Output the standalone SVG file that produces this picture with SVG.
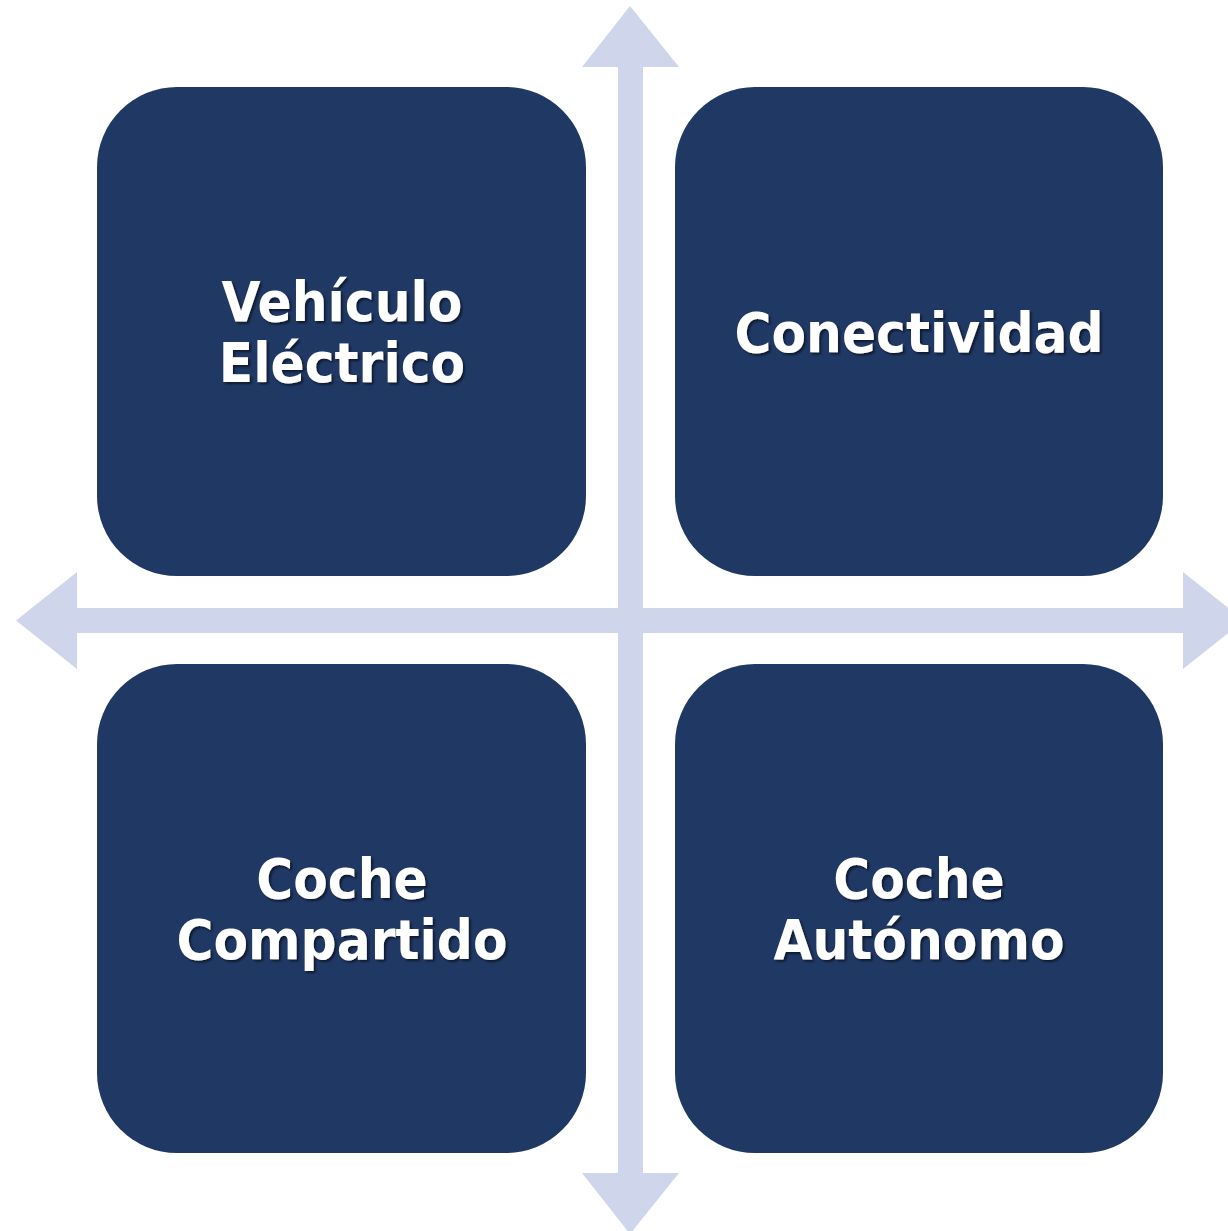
<svg xmlns="http://www.w3.org/2000/svg" width="1228" height="1231" viewBox="0 0 1228 1231">
<defs>
<style>
.box{fill:#203864}
.arr{fill:#CFD5EA}
.t{font-family:"DejaVu Sans Condensed","DejaVu Sans",Verdana,sans-serif;font-weight:bold;font-size:56px;fill:#FFFFFF;text-anchor:middle;filter:url(#sh)}
</style>
<filter id="sh" x="-10%" y="-10%" width="120%" height="130%">
<feDropShadow dx="2" dy="2" stdDeviation="1.2" flood-color="#000000" flood-opacity="0.55"/>
</filter>
</defs>
<rect width="1228" height="1231" fill="#FFFFFF"/>
<g id="connectors">
<polygon class="arr" points="630,6 679,67 643,67 643,1173 679,1173 630,1234 582,1173 618,1173 618,67 582,67"/>
<polygon class="arr" points="16,620.5 77,572 77,608 1183,608 1183,572 1244,620.5 1183,669 1183,633 77,633 77,669"/>
</g>
<g id="node-vehiculo">
<rect class="box" x="97" y="87" width="489" height="489" rx="80"/>
<text class="t" x="342" y="321">Vehículo</text>
<text class="t" x="342" y="382">Eléctrico</text>
</g>
<g id="node-conectividad">
<rect class="box" x="675" y="87" width="488" height="489" rx="80"/>
<text class="t" x="919" y="352">Conectividad</text>
</g>
<g id="node-compartido">
<rect class="box" x="97" y="664" width="489" height="489" rx="80"/>
<text class="t" x="342" y="898">Coche</text>
<text class="t" x="342" y="959">Compartido</text>
</g>
<g id="node-autonomo">
<rect class="box" x="675" y="664" width="488" height="489" rx="80"/>
<text class="t" x="919" y="898">Coche</text>
<text class="t" x="919" y="959">Autónomo</text>
</g>
</svg>
